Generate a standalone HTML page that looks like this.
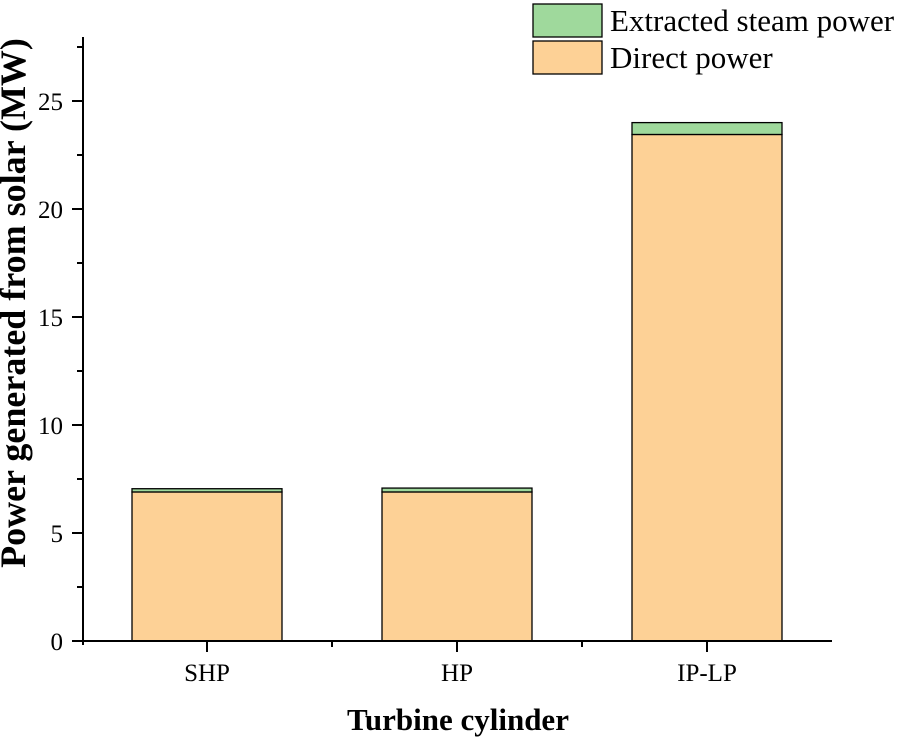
<!DOCTYPE html>
<html><head><meta charset="utf-8"><style>
body{margin:0;background:#fff}
svg text{font-family:"Liberation Serif",serif;fill:#000}
</style></head><body>
<svg id="chart" width="901" height="740"></svg>
<script>
const categories=["SHP","HP","IP-LP"];
const directPower=[6.9,6.9,23.45];
const extractedPower=[0.15,0.18,0.55];
const yTicks=[0,5,10,15,20,25];
const NS="http://www.w3.org/2000/svg";
const svg=document.getElementById('chart');
function x(v){return 82+(v-0.5)*250;}
function y(v){return 641-v*21.6;}
function add(tag,attrs,parent){const e=document.createElementNS(NS,tag);for(const k in attrs)e.setAttribute(k,attrs[k]);(parent||svg).appendChild(e);return e;}
categories.forEach((c,i)=>{
  const cx=x(i+1),w=150;
  const d=add('rect',{x:cx-w/2,y:y(directPower[i]),width:w,height:y(0)-y(directPower[i]),fill:'#fdd196',stroke:'#000','stroke-width':1.3});
  
  
  const tot=directPower[i]+extractedPower[i];
  const e=add('rect',{x:cx-w/2,y:y(tot),width:w,height:y(directPower[i])-y(tot),fill:'#9fd99c',stroke:'#000','stroke-width':1.3});
  
  
  add('line',{x1:cx,x2:cx,y1:641,y2:652,stroke:'#000','stroke-width':2});
  const t=add('text',{x:cx,y:681,'text-anchor':'middle','font-size':25});
  t.textContent=c;
  
  
  if(i<categories.length-1)add('line',{x1:x(i+1.5),x2:x(i+1.5),y1:641,y2:647,stroke:'#000','stroke-width':2});
});
yTicks.forEach(v=>{
  add('line',{x1:72,x2:83,y1:y(v),y2:y(v),stroke:'#000','stroke-width':2});
  add('line',{x1:77,x2:83,y1:y(v+2.5),y2:y(v+2.5),stroke:'#000','stroke-width':2});
  const t=add('text',{x:63,y:y(v)+9,'text-anchor':'end','font-size':25});
  t.textContent=v;
  
  
});
const ya=add('line',{x1:83,x2:83,y1:37,y2:645,stroke:'#000','stroke-width':2});

const xa=add('line',{x1:82,x2:832,y1:641,y2:641,stroke:'#000','stroke-width':2});

const xt=add('text',{x:458,y:730,'text-anchor':'middle','font-size':31,'font-weight':'bold'});
xt.textContent='Turbine cylinder';

const yt=add('text',{x:0,y:0,'text-anchor':'middle','font-size':36,'font-weight':'bold',transform:'translate(25,303) rotate(-90)'});
yt.textContent='Power generated from solar (MW)';

const legend=[["Extracted steam power","#9fd99c",4],["Direct power","#fdd196",41]];
legend.forEach(l=>{
  const g=add('g',{});
  
  add('rect',{x:533,y:l[2],width:69,height:33,fill:l[1],stroke:'#000','stroke-width':1.3},g);
  const t=add('text',{x:610,y:l[2]+27,'font-size':31},g);t.textContent=l[0];
});
</script>
</body></html>
